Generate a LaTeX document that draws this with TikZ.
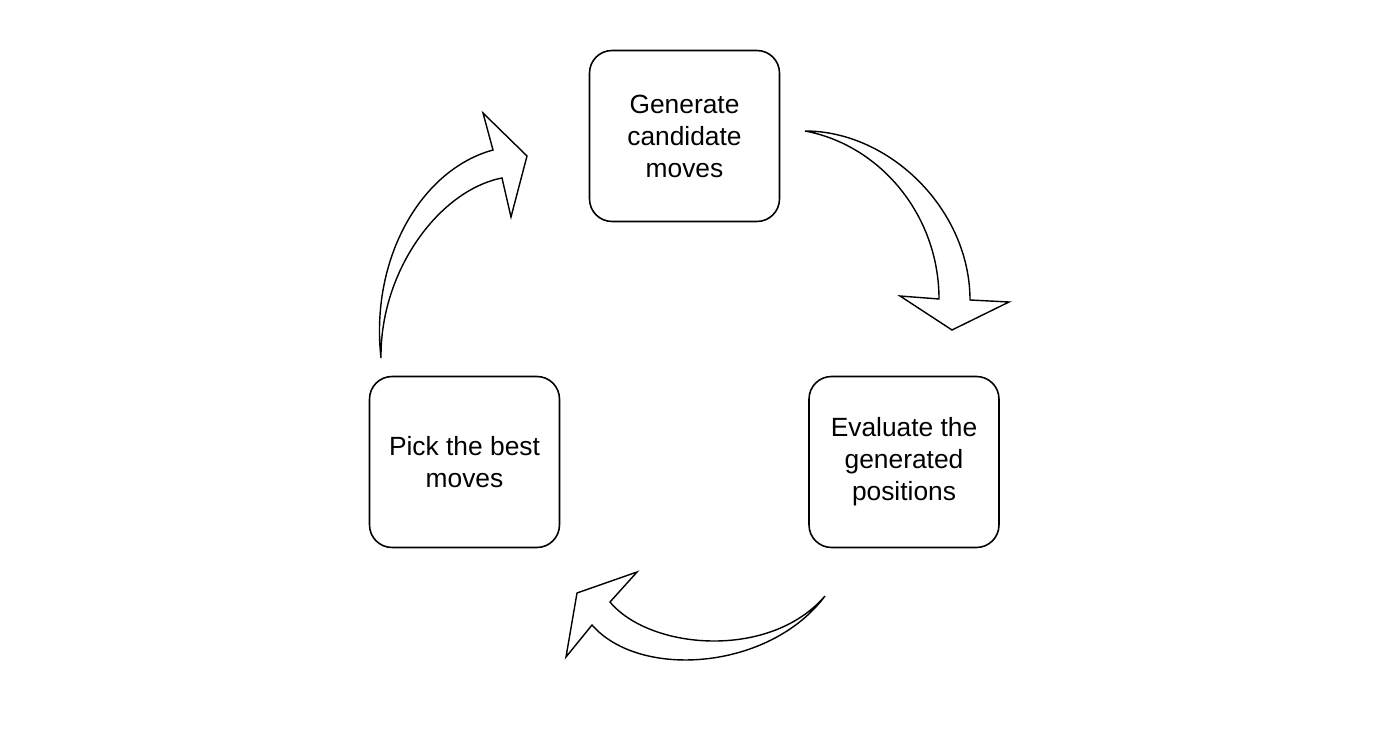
\documentclass[tikz,border=0pt]{standalone}
\usepackage{fontspec}
\setmainfont{Liberation Sans}
\usepackage{tikz}
\usetikzlibrary{positioning}

\begin{document}
\begin{tikzpicture}[x=0.02cm, y=-0.02cm, line join=miter,
  stage/.style={draw, line width=0.9pt, rounded corners=0.45cm, minimum width=3.8cm, minimum height=3.42cm, align=center, font=\fontsize{15}{18.2}\selectfont}]
  \useasboundingbox (0,0) rectangle (1400,756);
  \node[stage] (gen) at (684.5,136) {Generate\\candidate\\moves};
  \node[stage] (eval) at (904,462) {Evaluate the\\generated\\positions};
  \node[stage] (pick) at (464.5,462) {Pick the best\\moves};
  \draw[line width=0.8pt] (805,131) .. controls (890,131) and (970,210) .. (970,300) -- (1009,302) -- (952,330) -- (900,296) -- (939,299) .. controls (939,215) and (880,145) .. cycle;
  \draw[line width=0.8pt] (825,596) .. controls (770,670) and (640,680) .. (592,625) -- (566,657) -- (577,593) -- (637,572) -- (610,602) .. controls (650,650) and (770,660) .. cycle;
  \draw[line width=0.8pt] (381,358) .. controls (370,260) and (420,170) .. (493,150) -- (483,113) -- (527,156) -- (511,217) -- (502,178) .. controls (440,190) and (380,270) .. cycle;
\end{tikzpicture}
\end{document}
